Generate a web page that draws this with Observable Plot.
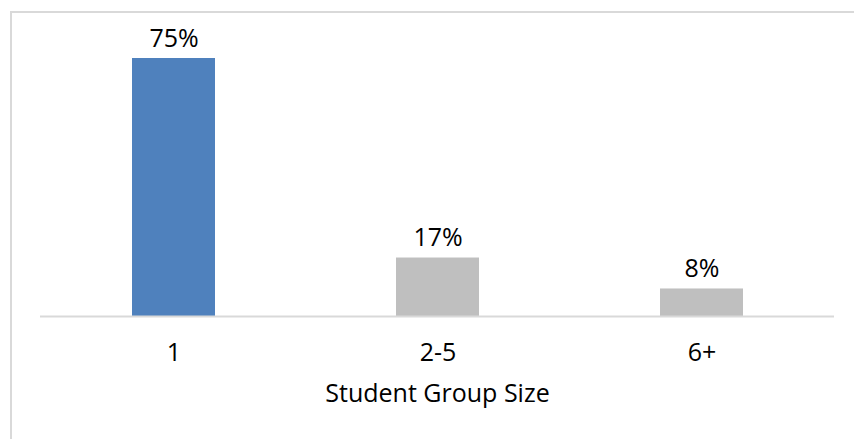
<!DOCTYPE html>
<html>
<head>
<meta charset="utf-8">
<script src="https://cdn.jsdelivr.net/npm/d3@7"></script>
<script src="https://cdn.jsdelivr.net/npm/@observablehq/plot@0.6"></script>
<style>
  html, body { margin: 0; padding: 0; background: #fff; }
  #wrap { position: relative; width: 854px; height: 439px; overflow: hidden; }
  #border { position: absolute; left: 10px; top: 11px; width: 900px; height: 500px;
            border-left: 2px solid #D9D9D9; border-top: 2px solid #D9D9D9; }
  #chart { position: absolute; left: 0; top: 0; }
</style>
</head>
<body>
<div id="wrap"><div id="border"></div><div id="chart"></div></div>
<script>
const categories = ["1", "2-5", "6+"];
const values = [75, 17, 8];
const labels = ["75%", "17%", "8%"];
const colors = ["#4F81BD", "#BFBFBF", "#BFBFBF"];

const data = categories.map((c, i) => ({cat: c, value: values[i], label: labels[i], color: colors[i]}));
const font = "'Open Sans', 'Noto Sans', sans-serif";

const chart = Plot.plot({
  width: 854,
  height: 439,
  marginLeft: 40,
  marginRight: 20,
  marginTop: 58,
  marginBottom: 123,
  style: {fontFamily: font, fontSize: "25px", background: "transparent", color: "#000", overflow: "visible"},
  x: {domain: categories, paddingInner: 0.686, paddingOuter: 0.344, label: null},
  y: {domain: [0, 75], axis: null},
  marks: [
    Plot.barY(data, {x: "cat", y: "value", fill: "color"}),
    Plot.ruleY([0], {stroke: "#D9D9D9", strokeWidth: 2}),
    Plot.text(data, {x: "cat", y: "value", text: "label", dy: -20, fontSize: 25, fill: "#000"}),
    Plot.axisX({tickSize: 0, tickPadding: 27, fontSize: 25, label: null, fill: "#000"}),
    Plot.text(["Student Group Size"], {frameAnchor: "bottom", dy: 85, fontSize: 25, fill: "#000"})
  ]
});
document.getElementById("chart").appendChild(chart);
</script>
</body>
</html>
